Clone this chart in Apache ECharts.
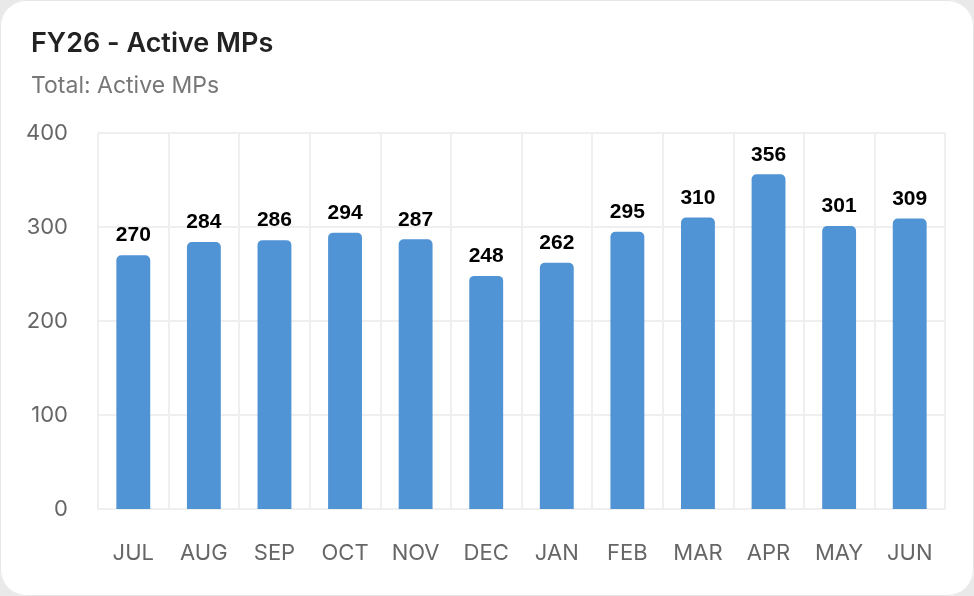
<!DOCTYPE html>
<html>
<head>
<meta charset="utf-8">
<script src="https://cdn.jsdelivr.net/npm/echarts@6/dist/echarts.min.js"></script>
<style>
  html, body { margin: 0; padding: 0; background: #e9e9e9; }
  #card {
    position: absolute; left: 0; top: 0; width: 974px; height: 596px;
    background: #fff; border-radius: 26px; overflow: hidden;
    box-shadow: inset 0 0 0 1px #e6e6e6;
  }
  #chart { width: 974px; height: 596px; }
</style>
</head>
<body>
<div id="card"><div id="chart"></div></div>
<script>
const months = ['JUL', 'AUG', 'SEP', 'OCT', 'NOV', 'DEC', 'JAN', 'FEB', 'MAR', 'APR', 'MAY', 'JUN'];
const activeMPs = [270, 284, 286, 294, 287, 248, 262, 295, 310, 356, 301, 309];
const yTicks = { min: 0, max: 400, interval: 100 };

const gridColor = '#efefef';

const chart = echarts.init(document.getElementById('chart'));
chart.setOption({
    animation: false,
    title: {
        text: 'FY26 - Active MPs',
        subtext: 'Total: Active MPs',
        left: 26,
        top: 25,
        itemGap: 18,
        textStyle: { fontFamily: 'Inter', fontSize: 27, fontWeight: 600, color: '#222' },
        subtextStyle: { fontFamily: 'Inter', fontSize: 23, color: '#777' }
    },
    grid: { left: 98, right: 29, top: 133, bottom: 87 },
    xAxis: {
        type: 'category',
        data: months,
        axisLine: { lineStyle: { color: gridColor, width: 2 } },
        axisTick: { length: 19, lineStyle: { color: gridColor, width: 2 } },
        splitLine: { show: true, lineStyle: { color: gridColor, width: 2 } },
        axisLabel: { margin: 33, fontFamily: 'Inter', fontSize: 22, color: '#666' }
    },
    yAxis: {
        type: 'value',
        min: yTicks.min,
        max: yTicks.max,
        interval: yTicks.interval,
        axisLine: { show: false },
        axisTick: { show: false },
        splitLine: { lineStyle: { color: gridColor, width: 2 } },
        axisLabel: { margin: 30, fontFamily: 'Inter', fontSize: 22, color: '#666' }
    },
    series: [{
        type: 'bar',
        data: activeMPs,
        barWidth: '48%',
        itemStyle: { color: '#5094d5', borderRadius: [5, 5, 0, 0] },
        label: {
            show: true,
            position: 'top',
            distance: 9,
            fontFamily: 'Liberation Sans',
            fontSize: 21,
            fontWeight: 'bold',
            color: '#000'
        }
    }]
});
</script>
</body>
</html>
